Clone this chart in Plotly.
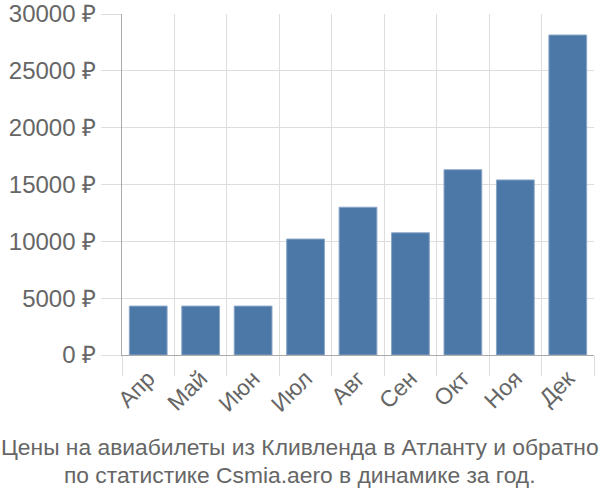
import plotly.graph_objects as go

months = ["Апр", "Май", "Июн", "Июл", "Авг", "Сен", "Окт", "Ноя", "Дек"]
prices = [4300, 4300, 4300, 10200, 13000, 10750, 16300, 15400, 28150]
y_ticks = [0, 5000, 10000, 15000, 20000, 25000, 30000]
y_labels = [f"{v} ₽" for v in y_ticks]
title_lines = ["Цены на авиабилеты из Кливленда в Атланту и обратно",
               "по статистике Csmia.aero в динамике за год."]

L, R, T, B = 122, 6, 14, 145
W, H = 600, 500
plot_w = W - L - R
plot_h = H - T - B

fig = go.Figure(go.Bar(
    x=months, y=prices,
    marker=dict(color="#4c78a8", line=dict(color="#8aa6c8", width=1)),
    width=0.72,
))

font = "Liberation Sans, Arial, sans-serif"
fig.update_layout(
    width=W, height=H,
    margin=dict(l=L, r=R, t=T, b=B, autoexpand=False),
    plot_bgcolor="white", paper_bgcolor="white",
    showlegend=False,
    font=dict(family=font, color="#666666", size=23),
    xaxis=dict(
        range=[-0.5, 8.5], automargin=False,
        tickson="boundaries", showgrid=True, gridcolor="#dddddd", gridwidth=1,
        ticks="outside", ticklen=20, tickcolor="#dddddd", tickwidth=1,
        tickangle=-45, tickfont=dict(family=font, size=23, color="#666666"),
        showline=True, linecolor="#aaaaaa", linewidth=1,
    ),
    yaxis=dict(
        range=[0, 30000], automargin=False,
        tickvals=y_ticks, ticktext=y_labels,
        showgrid=True, gridcolor="#dddddd", gridwidth=1,
        ticks="outside", ticklen=20, tickcolor="#dddddd", tickwidth=1,
        tickfont=dict(family=font, size=24, color="#666666"),
        showline=True, linecolor="#aaaaaa", linewidth=1,
        zeroline=False,
    ),
)

def ypaper(py):
    return (H - B - py) / plot_h

for i, line in enumerate(title_lines):
    fig.add_annotation(text=line, x=(W / 2 - L) / plot_w, xref="paper", yref="paper",
                       xanchor="center", yanchor="middle",
                       y=ypaper(447 + 28 * i), showarrow=False,
                       font=dict(family=font, size=22.8, color="#666666"))

fig.write_html("out.html", config={"displayModeBar": False},
               post_script="document.body.style.margin='0';")
